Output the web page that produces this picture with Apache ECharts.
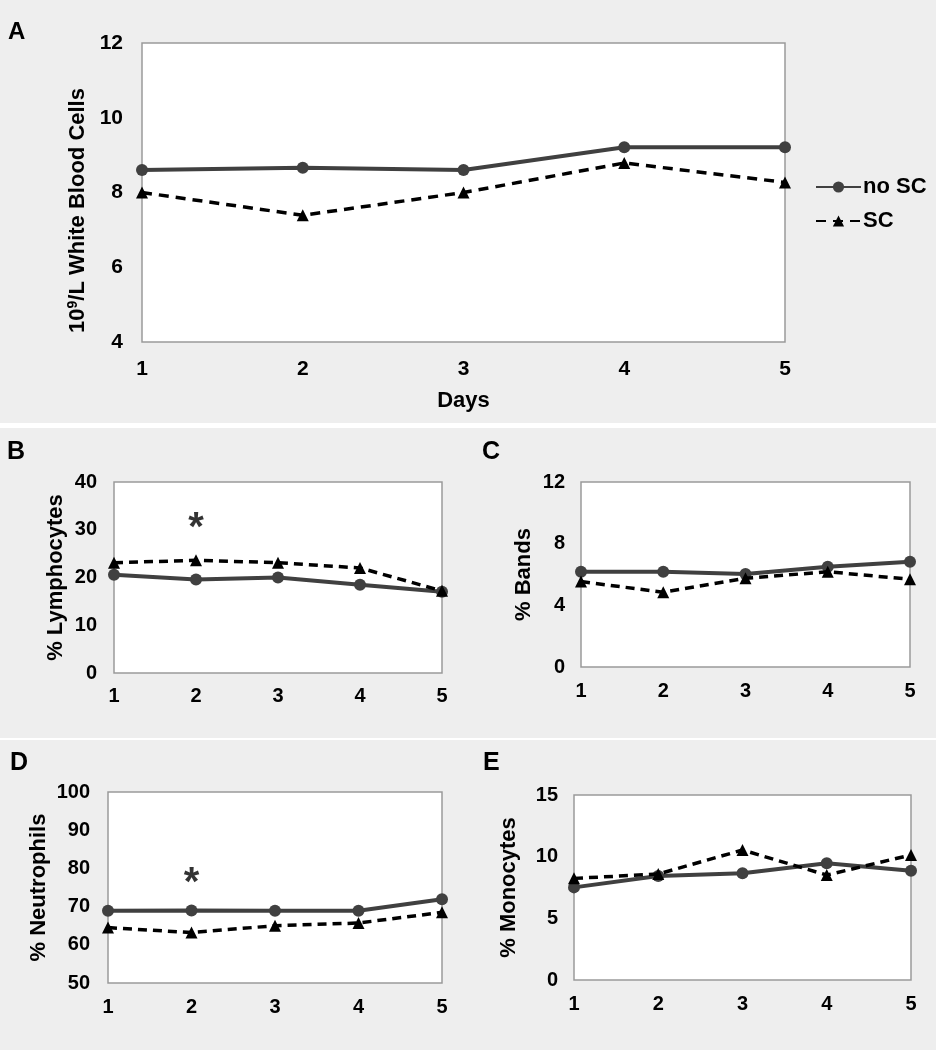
<!DOCTYPE html>
<html>
<head>
<meta charset="utf-8">
<script src="https://cdn.jsdelivr.net/npm/echarts@6/dist/echarts.min.js"></script>
<style>
html,body{margin:0;padding:0;background:#ffffff;}
#chart{width:936px;height:1050px;}
</style>
</head>
<body>
<div id="chart"></div>
<script>
// ---- data ----
const days = ['1', '2', '3', '4', '5'];
const seriesNames = ['no SC', 'SC'];

const wbcNoSC = [8.6, 8.66, 8.6, 9.21, 9.21];
const wbcSC = [8.0, 7.39, 8.0, 8.79, 8.27];
const lymNoSC = [20.6, 19.6, 20.0, 18.5, 17.0];
const lymSC = [23.1, 23.6, 23.1, 22.0, 17.2];
const bandNoSC = [6.18, 6.18, 6.03, 6.5, 6.83];
const bandSC = [5.54, 4.85, 5.75, 6.18, 5.69];
const neuNoSC = [68.9, 69.0, 68.9, 68.9, 71.9];
const neuSC = [64.5, 63.2, 65.0, 65.7, 68.5];
const monoNoSC = [7.51, 8.43, 8.65, 9.46, 8.86];
const monoSC = [8.24, 8.59, 10.54, 8.51, 10.14];

// axis ranges [min, max, interval]
const wbcTicks = [4, 12, 2];
const lymTicks = [0, 40, 10];
const bandTicks = [0, 12, 4];
const neuTicks = [50, 100, 10];
const monoTicks = [0, 15, 5];

// significance markers [day, value]
const lymStar = ['2', 30.2];
const neuStar = ['2', 75.8];

const panelLetters = ['A', 'B', 'C', 'D', 'E'];

// ---- styles ----
const FONT = '"Liberation Sans", Arial, sans-serif';
const solidColor = '#404040';
const dashColor = '#000000';
const textColor = '#000000';

const grids = [
  {left: 142, top: 43, width: 643, height: 299},
  {left: 114, top: 482, width: 328, height: 191},
  {left: 581, top: 482, width: 329, height: 185},
  {left: 108, top: 792, width: 334, height: 191},
  {left: 574, top: 795, width: 337, height: 185}
].map(g => Object.assign(g, {
  show: true, backgroundColor: '#ffffff', borderColor: '#9a9a9a', borderWidth: 1.5, containLabel: false
}));

const xLabelMargin = [17, 13, 14, 14, 14];
const xAxes = grids.map((g, i) => ({
  type: 'category', gridIndex: i, data: days, boundaryGap: false,
  axisLine: {show: false}, axisTick: {show: false}, splitLine: {show: false},
  axisLabel: {color: textColor, fontFamily: FONT, fontWeight: 'bold', fontSize: i === 0 ? 21 : 20, margin: xLabelMargin[i]},
  name: i === 0 ? 'Days' : '', nameLocation: 'middle', nameGap: 48,
  nameTextStyle: {color: textColor, fontFamily: FONT, fontWeight: 'bold', fontSize: 22}
}));

const ticks = [wbcTicks, lymTicks, bandTicks, neuTicks, monoTicks];
const yNames = ['10{sup|9}/L White Blood Cells', '% Lymphocytes', '% Bands', '% Neutrophils', '% Monocytes'];
const yNameGap = [52, 47, 46, 58, 54];
const yLabelMargin = [19, 17, 16, 18, 16];
const yAxes = ticks.map((t, i) => ({
  type: 'value', gridIndex: i, min: t[0], max: t[1], interval: t[2],
  axisLine: {show: false}, axisTick: {show: false}, splitLine: {show: false},
  axisLabel: {color: textColor, fontFamily: FONT, fontWeight: 'bold', fontSize: i === 0 ? 21 : 20, margin: yLabelMargin[i]},
  name: yNames[i], nameLocation: 'middle', nameGap: yNameGap[i],
  nameTextStyle: {
    color: textColor, fontFamily: FONT, fontWeight: 'bold', fontSize: 22,
    padding: i === 0 ? [0, 36, 0, 0] : 0,
    rich: {sup: {fontFamily: FONT, fontWeight: 'bold', fontSize: 14, color: textColor, verticalAlign: 'bottom', padding: [0, 0, 9, 0]}}
  }
}));

const panelData = [
  [wbcNoSC, wbcSC], [lymNoSC, lymSC], [bandNoSC, bandSC], [neuNoSC, neuSC], [monoNoSC, monoSC]
];
const series = [];
panelData.forEach((pd, i) => {
  const big = i === 0;
  series.push({
    name: seriesNames[0], type: 'line', xAxisIndex: i, yAxisIndex: i, data: pd[0],
    symbol: 'circle', symbolSize: 12, showSymbol: true,
    lineStyle: {color: solidColor, width: 4},
    itemStyle: {color: solidColor}, z: 3, silent: true
  });
  series.push({
    name: seriesNames[1], type: 'line', xAxisIndex: i, yAxisIndex: i, data: pd[1],
    symbol: 'triangle', symbolSize: 12, showSymbol: true,
    lineStyle: {color: dashColor, width: 3.5, type: big ? [10, 7] : [9, 6]},
    itemStyle: {color: dashColor}, z: 4, silent: true
  });
});
[[1, lymStar], [3, neuStar]].forEach(([gi, pt]) => {
  series.push({
    type: 'scatter', xAxisIndex: gi, yAxisIndex: gi, data: [pt], symbolSize: 0, silent: true,
    label: {show: true, position: 'inside', formatter: '*', color: '#000', fontFamily: FONT, fontWeight: 'bold', fontSize: 40}
  });
});

const letterPos = [[8, 32, 24], [7, 452, 25], [482, 452, 25], [10, 763, 25], [483, 763, 25]];
const graphic = [
  {type: 'rect', shape: {x: 0, y: 0, width: 936, height: 423}, style: {fill: '#eeeeee'}, z: -10, silent: true},
  {type: 'rect', shape: {x: 0, y: 428, width: 936, height: 310}, style: {fill: '#eeeeee'}, z: -10, silent: true},
  {type: 'rect', shape: {x: 0, y: 740, width: 936, height: 310}, style: {fill: '#eeeeee'}, z: -10, silent: true}
];
panelLetters.forEach((L, i) => {
  const p = letterPos[i];
  graphic.push({type: 'text', left: p[0], top: p[1] - p[2] * 0.5, z: 10, silent: true,
    style: {text: L, fill: textColor, font: 'bold ' + p[2] + 'px ' + FONT}});
});

const chart = echarts.init(document.getElementById('chart'), null, {renderer: 'canvas'});
chart.setOption({
  backgroundColor: '#ffffff',
  animation: false,
  grid: grids, xAxis: xAxes, yAxis: yAxes, series: series, graphic: graphic,
  legend: {
    data: seriesNames, orient: 'vertical', left: 810, top: 171, itemWidth: 45, itemHeight: 14, itemGap: 12,
    textStyle: {color: textColor, fontFamily: FONT, fontWeight: 'bold', fontSize: 22, padding: [0, 0, 0, -3]},
    selectedMode: false
  }
});
</script>
</body>
</html>
